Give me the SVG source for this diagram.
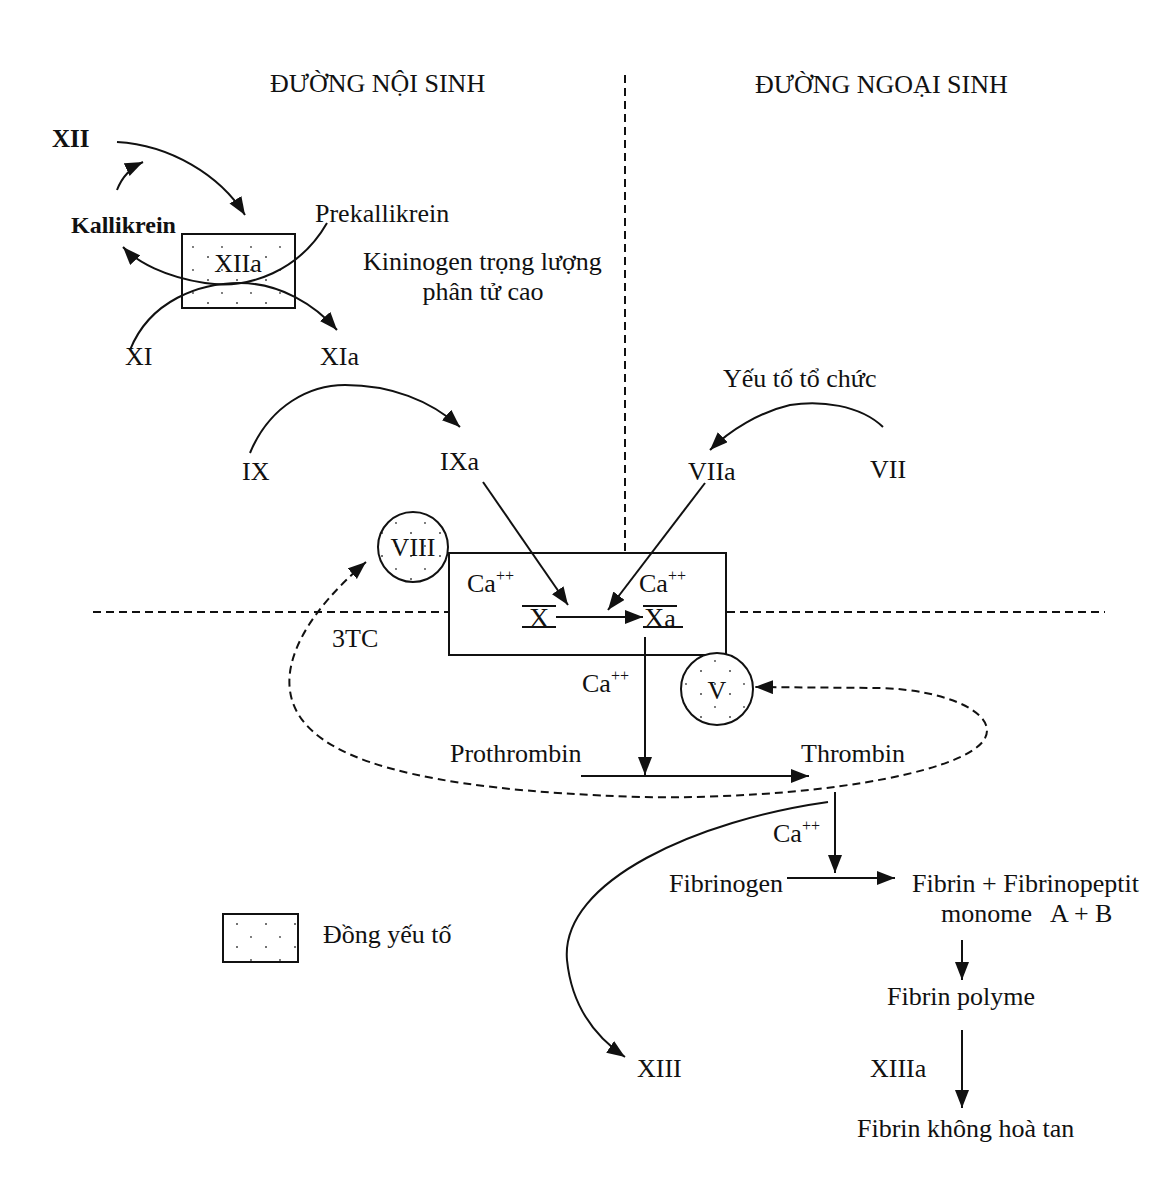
<svg xmlns="http://www.w3.org/2000/svg" width="1163" height="1200" viewBox="0 0 1163 1200">
<style>
text{font-family:"Liberation Serif","Times New Roman",serif;font-size:26px;fill:#111}
.b{font-weight:bold}
.sup{font-size:16px}
.ln{fill:none;stroke:#111;stroke-width:2}
.arr{marker-end:url(#ah)}
.dash{fill:none;stroke:#111;stroke-width:2;stroke-dasharray:8 5}
.box{fill:url(#dots);stroke:#111;stroke-width:2}
.plain{fill:#fff;stroke:#111;stroke-width:2}
</style>
<defs>
<marker id="ah" markerUnits="userSpaceOnUse" markerWidth="20" markerHeight="16" refX="18" refY="7" orient="auto-start-reverse">
<path d="M0,0 L18,7 L0,14 z" fill="#111"/>
</marker>
<pattern id="dots" patternUnits="userSpaceOnUse" width="29" height="23">
<rect width="29" height="23" fill="#fff"/>
<circle cx="5" cy="4" r="1" fill="#444"/>
<circle cx="19" cy="17" r="0.9" fill="#444"/>
</pattern>
</defs>
<rect width="1163" height="1200" fill="#fff"/>

<g id="dividers">
<line class="dash" x1="625" y1="75" x2="625" y2="552"/>
<line class="dash" x1="93" y1="612" x2="449" y2="612"/>
<line class="dash" x1="727" y1="612" x2="1105" y2="612"/>
</g>

<g id="titles">
<text x="270" y="92">ĐƯỜNG NỘI SINH</text>
<text x="755" y="93">ĐƯỜNG NGOẠI SINH</text>
</g>

<g id="node-XII"><text class="b" x="52" y="147" style="font-size:25px">XII</text></g>
<g id="node-kallikrein"><text class="b" x="71" y="233" style="font-size:24px">Kallikrein</text></g>
<g id="node-XIIa"><rect class="box" x="182" y="234" width="113" height="74"/><text x="238" y="272" text-anchor="middle">XIIa</text></g>
<g id="node-prekallikrein"><text x="315" y="222">Prekallikrein</text></g>
<g id="node-kininogen"><text x="363" y="270">Kininogen trọng lượng</text><text x="483" y="300" text-anchor="middle">phân tử cao</text></g>
<g id="node-XI"><text x="125" y="365">XI</text></g>
<g id="node-XIa"><text x="320" y="365">XIa</text></g>
<g id="node-IX"><text x="242" y="480">IX</text></g>
<g id="node-IXa"><text x="440" y="470">IXa</text></g>
<g id="node-tf"><text x="723" y="387">Yếu tố tổ chức</text></g>
<g id="node-VIIa"><text x="688" y="480">VIIa</text></g>
<g id="node-VII"><text x="870" y="478">VII</text></g>

<g id="node-complex">
<rect class="plain" x="449" y="553" width="277" height="102"/>
<text x="467" y="592">Ca<tspan class="sup" dy="-11">++</tspan></text>
<text x="639" y="592">Ca<tspan class="sup" dy="-11">++</tspan></text>
<text x="539" y="627" text-anchor="middle" style="font-size:28px">X</text>
<line class="ln" x1="522" y1="606" x2="556" y2="606"/>
<line class="ln" x1="522" y1="627" x2="556" y2="627"/>
<text x="644" y="627" style="font-size:28px">X<tspan style="font-size:26px">a</tspan></text>
<line class="ln" x1="643" y1="606" x2="677" y2="606"/>
<line class="ln" x1="643" y1="627" x2="683" y2="627"/>
</g>
<g id="node-VIII"><circle class="box" cx="413" cy="547" r="35"/><text x="413" y="556" text-anchor="middle">VIII</text></g>
<g id="node-V"><circle class="box" cx="717" cy="689" r="36"/><text x="717" y="699" text-anchor="middle">V</text></g>
<g id="node-3TC"><text x="332" y="647">3TC</text></g>
<g id="node-ca3"><text x="582" y="692">Ca<tspan class="sup" dy="-11">++</tspan></text></g>
<g id="node-prothrombin"><text x="450" y="762">Prothrombin</text></g>
<g id="node-thrombin"><text x="801" y="762">Thrombin</text></g>
<g id="node-ca4"><text x="773" y="842">Ca<tspan class="sup" dy="-11">++</tspan></text></g>
<g id="node-fibrinogen"><text x="669" y="892">Fibrinogen</text></g>
<g id="node-fibrin"><text x="912" y="892">Fibrin + Fibrinopeptit</text><text x="941" y="922" xml:space="preserve">monome   A + B</text></g>
<g id="node-polyme"><text x="887" y="1005">Fibrin polyme</text></g>
<g id="node-XIIIa"><text x="870" y="1077">XIIIa</text></g>
<g id="node-XIII"><text x="637" y="1077">XIII</text></g>
<g id="node-insoluble"><text x="857" y="1137">Fibrin không hoà tan</text></g>
<g id="legend"><rect class="box" x="223" y="914" width="75" height="48"/><text x="323" y="943">Đồng yếu tố</text></g>

<g id="connectors">
<path class="ln arr" d="M117,142 C170,145 220,175 245,215"/>
<path class="ln arr" d="M117,190 C122,177 130,168 143,162"/>
<path class="ln arr" d="M327,223 C300,270 250,290 205,283 C165,277 137,262 123,247"/>
<path class="ln arr" d="M130,350 C150,300 200,283 240,283 C280,283 315,305 337,330"/>
<path class="ln arr" d="M250,453 C270,405 310,385 345,385 C390,385 430,400 460,427"/>
<path class="ln arr" d="M883,427 C860,405 820,400 790,405 C760,412 730,430 710,450"/>
<line class="ln arr" x1="483" y1="482" x2="568" y2="605"/>
<line class="ln arr" x1="705" y1="483" x2="608" y2="610"/>
<line class="ln arr" x1="556" y1="617" x2="643" y2="617"/>
<line class="ln arr" x1="645" y1="637" x2="645" y2="775"/>
<line class="ln arr" x1="581" y1="776" x2="809" y2="776"/>
<line class="ln arr" x1="835" y1="792" x2="835" y2="873"/>
<line class="ln arr" x1="787" y1="878" x2="895" y2="878"/>
<line class="ln arr" x1="962" y1="940" x2="962" y2="980"/>
<line class="ln arr" x1="962" y1="1030" x2="962" y2="1108"/>
<path class="ln arr" d="M828,802 C700,820 560,880 567,960 C572,1010 600,1040 625,1057"/>
<path class="dash" marker-start="url(#ah)" marker-end="url(#ah)" d="M366,562 C310,610 280,660 292,700 C310,760 420,790 640,797 C800,800 960,775 984,740 C1000,715 950,690 880,688 L755,687"/>
</g>
</svg>
